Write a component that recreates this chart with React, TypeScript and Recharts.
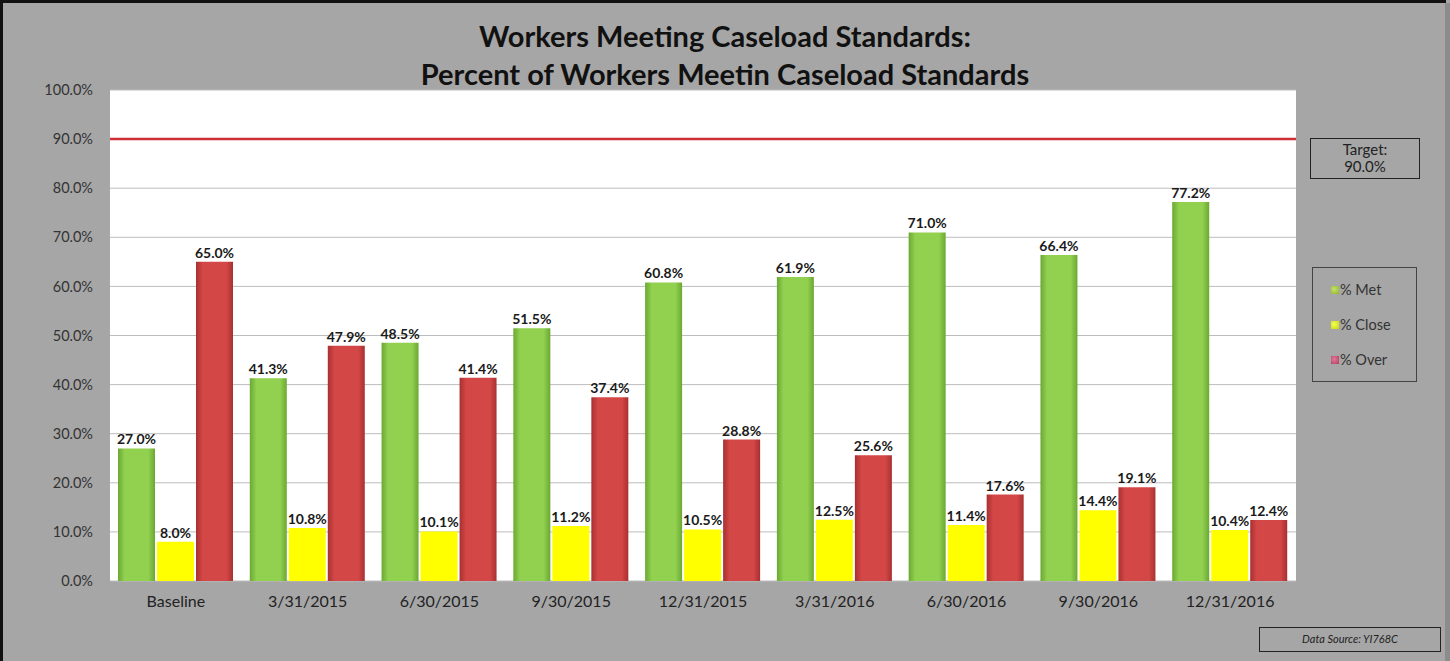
import { BarChart, Bar, XAxis, YAxis, CartesianGrid, ReferenceLine, LabelList } from 'recharts'

const PERIODS = ['Baseline', '3/31/2015', '6/30/2015', '9/30/2015', '12/31/2015', '3/31/2016', '6/30/2016', '9/30/2016', '12/31/2016']
const MET = [27.0, 41.3, 48.5, 51.5, 60.8, 61.9, 71.0, 66.4, 77.2]
const CLOSE = [8.0, 10.8, 10.1, 11.2, 10.5, 12.5, 11.4, 14.4, 10.4]
const OVER = [65.0, 47.9, 41.4, 37.4, 28.8, 25.6, 17.6, 19.1, 12.4]
const Y_TICKS = [0, 10, 20, 30, 40, 50, 60, 70, 80, 90, 100]
const TARGET = 90

const data = PERIODS.map((p, i) => ({ period: p, met: MET[i], close: CLOSE[i], over: OVER[i] }))

const FONT = 'Lato, "Open Sans", sans-serif'
const pct = (v: number) => `${Number(v).toFixed(1)}%`

const LEGEND_ITEMS = [
  { label: '% Met', c1: '#c6e26a', c2: '#8fb52a' },
  { label: '% Close', c1: '#f4ff5a', c2: '#c8d400' },
  { label: '% Over', c1: '#e07a9a', c2: '#b03c60' },
]

function LegendBox() {
  return (
    <div
      style={{
        position: 'absolute',
        left: 1312,
        top: 267,
        width: 105,
        height: 115,
        border: '1px solid #444',
        display: 'flex',
        flexDirection: 'column',
        justifyContent: 'space-around',
        padding: '4px 0',
        boxSizing: 'border-box',
        fontSize: 14.5,
        color: '#333',
      }}
    >
      {LEGEND_ITEMS.map((it) => (
        <div key={it.label} style={{ display: 'flex', alignItems: 'center', paddingLeft: 18 }}>
          <div
            style={{
              width: 8,
              height: 8,
              marginRight: 1,
              background: `radial-gradient(circle at 40% 40%, ${it.c1}, ${it.c2})`,
            }}
          />
          <span>{it.label}</span>
        </div>
      ))}
    </div>
  )
}

export default function App() {
  return (
    <div
      style={{
        position: 'absolute',
        left: 0,
        top: 0,
        width: 1450,
        height: 661,
        background: '#a6a6a6',
        overflow: 'hidden',
        fontFamily: FONT,
      }}
    >
      <div style={{ position: 'absolute', left: 0, top: 0, width: 1446, height: 670, borderTop: '3px solid #111', borderLeft: '3px solid #111', boxSizing: 'border-box' }} />
      <div style={{ position: 'absolute', left: 1445, top: 3, width: 5, height: 661, background: '#8c8c8c' }} />

      <div
        style={{
          position: 'absolute',
          left: 0,
          top: 17,
          width: 1450,
          textAlign: 'center',
          fontWeight: 700,
          fontSize: 29,
          lineHeight: '38px',
          color: '#111',
        }}
      >
        <div>Workers Meeting Caseload Standards:</div>
        <div>Percent of Workers Meetin Caseload Standards</div>
      </div>

      <div style={{ position: 'absolute', left: 0, top: 0 }}>
        <BarChart
          width={1450}
          height={661}
          data={data}
          margin={{ top: 90, right: 154, bottom: 50, left: 0 }}
          barSize={37}
          barGap={2}
        >
          <defs>
            <linearGradient id="gMet" x1="0" y1="0" x2="1" y2="0">
              <stop offset="0%" stopColor="#6aa832" />
              <stop offset="18%" stopColor="#92d050" />
              <stop offset="82%" stopColor="#92d050" />
              <stop offset="100%" stopColor="#6aa832" />
            </linearGradient>
            <linearGradient id="gOver" x1="0" y1="0" x2="1" y2="0">
              <stop offset="0%" stopColor="#a83030" />
              <stop offset="18%" stopColor="#d44747" />
              <stop offset="82%" stopColor="#d44747" />
              <stop offset="100%" stopColor="#a83030" />
            </linearGradient>
          </defs>
          <CartesianGrid fill="#ffffff" stroke="#bdbdbd" vertical={false} />
          <XAxis
            dataKey="period"
            axisLine={false}
            tickLine={false}
            height={30}
            tickSize={6}
            tickMargin={9}
            tick={{ fill: '#222', fontSize: 16, fontFamily: FONT }}
          />
          <YAxis
            domain={[0, 100]}
            ticks={Y_TICKS}
            tickFormatter={pct}
            axisLine={false}
            tickLine={false}
            width={110}
            tickSize={8}
            tickMargin={9}
            tick={{ fill: '#333', fontSize: 14.5, fontFamily: FONT }}
          />
          <ReferenceLine y={TARGET} stroke="#cc2f35" strokeWidth={2.5} />
          <Bar dataKey="met" name="% Met" fill="url(#gMet)" isAnimationActive={false}>
            <LabelList dataKey="met" position="top" offset={4} formatter={pct} fill="#1a1a1a" fontSize={14} fontWeight={700} fontFamily={FONT} />
          </Bar>
          <Bar dataKey="close" name="% Close" fill="#ffff00" isAnimationActive={false}>
            <LabelList dataKey="close" position="top" offset={4} formatter={pct} fill="#1a1a1a" fontSize={14} fontWeight={700} fontFamily={FONT} />
          </Bar>
          <Bar dataKey="over" name="% Over" fill="url(#gOver)" isAnimationActive={false}>
            <LabelList dataKey="over" position="top" offset={4} formatter={pct} fill="#1a1a1a" fontSize={14} fontWeight={700} fontFamily={FONT} />
          </Bar>
        </BarChart>
      </div>

      <LegendBox />

      <div
        style={{
          position: 'absolute',
          left: 1310,
          top: 138,
          width: 110,
          height: 41,
          border: '1.5px solid #222',
          boxSizing: 'border-box',
          textAlign: 'center',
          fontSize: 15,
          lineHeight: '17px',
          color: '#222',
          paddingTop: 2,
        }}
      >
        <div>Target:</div>
        <div>{pct(TARGET)}</div>
      </div>

      <div
        style={{
          position: 'absolute',
          left: 1259,
          top: 627,
          width: 182,
          height: 25,
          border: '1.5px solid #222',
          boxSizing: 'border-box',
          textAlign: 'center',
          fontSize: 11,
          fontStyle: 'italic',
          lineHeight: '22px',
          color: '#222',
        }}
      >
        Data Source: YI768C
      </div>
    </div>
  )
}
